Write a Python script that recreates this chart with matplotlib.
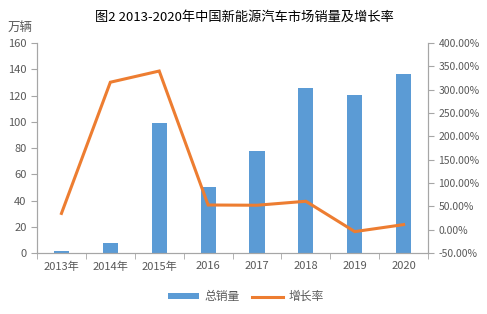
import matplotlib
matplotlib.use("Agg")
import matplotlib.pyplot as plt
from matplotlib.ticker import FuncFormatter

plt.rcParams["font.family"] = ["Noto Sans CJK SC", "DejaVu Sans"]

years = ["2013年", "2014年", "2015年", "2016", "2017", "2018", "2019", "2020"]
sales = [1.8, 7.5, 98.8, 50.7, 77.7, 125.6, 120.6, 136.7]
growth = [35.0, 316.0, 340.0, 53.0, 52.5, 61.0, -4.0, 11.0]

BLUE = "#5B9BD5"
ORANGE = "#ED7D31"
GRAY = "#595959"
SPINE = "#A6A6A6"

fig = plt.figure(figsize=(4.87, 3.14), dpi=100)
ax = fig.add_axes([0.076, 0.194, 0.803, 0.669])
ax2 = ax.twinx()

x = range(len(years))
bars = ax.bar(x, sales, width=0.31, color=BLUE, label="总销量", zorder=2)
line, = ax2.plot(x, growth, color=ORANGE, lw=2.2, label="增长率",
                 solid_joinstyle="miter", zorder=3)

ax.set_xlim(-0.5, len(years) - 0.5)
ax.set_ylim(0, 160)
ax.set_yticks(range(0, 161, 20))
ax2.set_ylim(-50, 400)
ax2.set_yticks(range(-50, 401, 50))
ax2.yaxis.set_major_formatter(FuncFormatter(lambda v, p: f"{v:.2f}%"))

ax.set_xticks(list(x))
ax.set_xticklabels(years)
ax.set_xticks([i + 0.5 for i in range(-1, len(years))], minor=True)
ax.tick_params(axis="x", which="major", length=0, pad=6)
ax.tick_params(axis="x", which="minor", length=4, color=SPINE)

for a in (ax, ax2):
    a.spines["top"].set_visible(False)
    for s in ("left", "right", "bottom"):
        a.spines[s].set_color(SPINE)
    a.tick_params(axis="y", length=4, color=SPINE, labelcolor=GRAY, labelsize=8)
    a.tick_params(axis="x", labelcolor=GRAY, labelsize=8)
ax2.tick_params(axis="y", labelsize=7.5)
ax.set_zorder(1)
ax2.set_zorder(2)
ax.patch.set_visible(False)

fig.text(0.502, 0.945, "图2 2013-2020年中国新能源汽车市场销量及增长率",
         ha="center", va="center", fontsize=9.5, color="#000000")
fig.text(0.016, 0.912, "万辆", ha="left", va="center", fontsize=9, color=GRAY)

fig.legend(handles=[bars, line], loc="center", bbox_to_anchor=(0.505, 0.055),
           ncol=2, frameon=False, fontsize=8.5, labelcolor=GRAY,
           handlelength=2.6, handleheight=0.45, handletextpad=0.5,
           columnspacing=1.0)

fig.savefig("out.png", dpi=100)
